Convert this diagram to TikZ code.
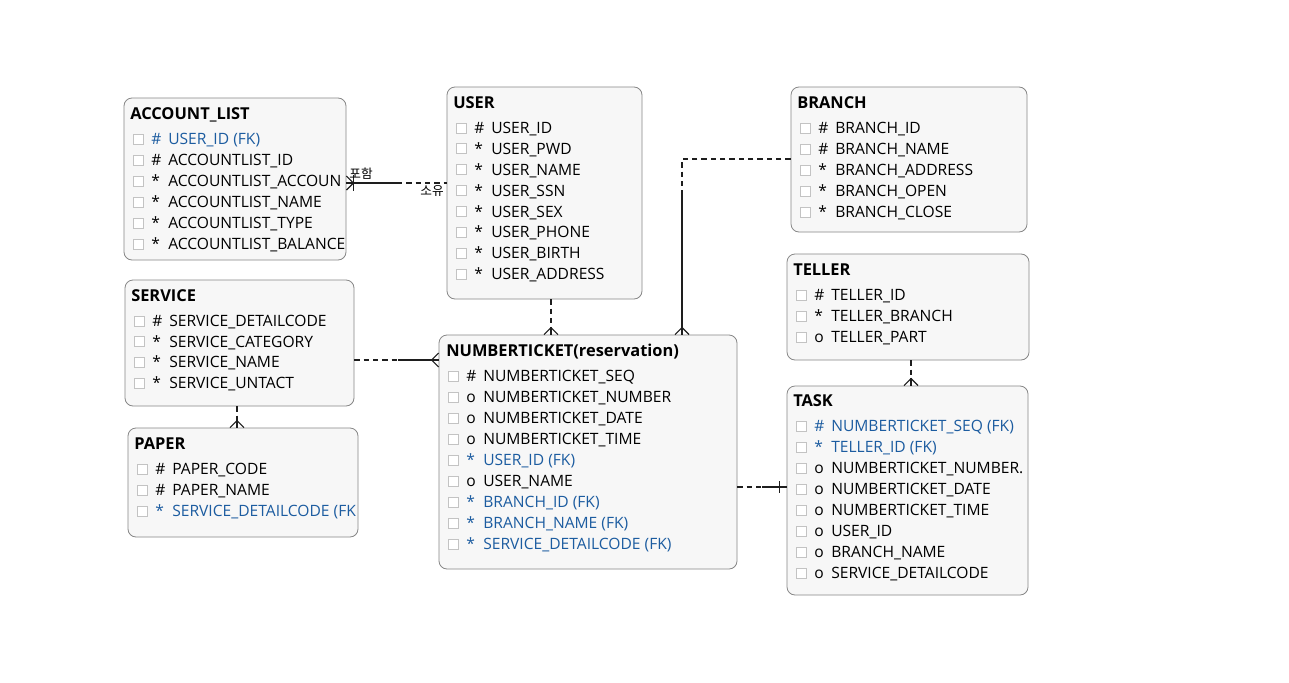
\documentclass[tikz,border=0pt]{standalone}
\usepackage{fontspec}
\setmainfont{Open Sans}
\newfontfamily\kfont{Noto Sans CJK KR}
\usetikzlibrary{fit}
\definecolor{fk}{RGB}{28,92,160}
\definecolor{txt}{RGB}{0,0,0}
\definecolor{boxfill}{RGB}{247,247,247}
\definecolor{boxline}{RGB}{135,135,135}
\definecolor{chkline}{RGB}{195,195,195}
\definecolor{relline}{RGB}{30,30,30}
\tikzstyle{entity} = [rectangle, rounded corners=6pt, draw=boxline, fill=boxfill, inner sep=0pt, line width=0.6pt]
\tikzstyle{title} = [anchor=west, inner sep=0pt, text height=8.5pt, text depth=0pt, font=\fontsize{12.3}{14}\selectfont\bfseries]
\tikzstyle{row} = [anchor=west, inner sep=0pt, text height=8.3pt, text depth=0pt, font=\fontsize{11.7}{13}\selectfont]
\tikzstyle{chk} = [rectangle, draw=chkline, fill=white, line width=0.5pt, minimum size=7.5pt, inner sep=0pt]
\tikzstyle{rel} = [draw=relline, line width=0.9pt]
\tikzstyle{reldash} = [rel, dash pattern=on 4pt off 3pt]
\tikzstyle{kor} = [inner sep=0pt, font=\kfont\fontsize{9.5}{11}\selectfont]

\begin{document}
\begin{tikzpicture}[x=0.75pt, y=-0.75pt]
\fill [white] (0,0) rectangle (1289,682);
\useasboundingbox (0,0) rectangle (1289,682);

% ACCOUNT_LIST
\node (acc) [entity, fit={(124,98) (346,260)}] {};
\node (acct) [title] at (130,114) {ACCOUNT\_LIST};
\begin{scope}
\clip [rounded corners=6pt] (124,98) rectangle (346,260);
\foreach \fc/\sy/\nm [count=\i] in {fk/\#/USER\_ID (FK), txt/\#/ACCOUNTLIST\_ID, txt/*/ACCOUNTLIST\_ACCOUN, txt/*/ACCOUNTLIST\_NAME, txt/*/ACCOUNTLIST\_TYPE, txt/*/ACCOUNTLIST\_BALANCE}
{
  \node (acc-\i) [chk] at (138,118+21*\i) {};
  \node [row, text=\fc] at (151,118+21*\i) {\sy};
  \node [row, text=\fc] at (168,118+21*\i) {\nm};
}
\end{scope}

% USER
\node (user) [entity, fit={(447,87) (642,299)}] {};
\node (usert) [title] at (453,103) {USER};
\begin{scope}
\clip [rounded corners=6pt] (447,87) rectangle (642,299);
\foreach \fc/\sy/\nm [count=\i] in {txt/\#/USER\_ID, txt/*/USER\_PWD, txt/*/USER\_NAME, txt/*/USER\_SSN, txt/*/USER\_SEX, txt/*/USER\_PHONE, txt/*/USER\_BIRTH, txt/*/USER\_ADDRESS}
{
  \node (user-\i) [chk] at (461,107+20.9*\i) {};
  \node [row, text=\fc] at (474,107+20.9*\i) {\sy};
  \node [row, text=\fc] at (491,107+20.9*\i) {\nm};
}
\end{scope}

% BRANCH
\node (branch) [entity, fit={(791,87) (1027,232)}] {};
\node (brancht) [title] at (797,103) {BRANCH};
\begin{scope}
\clip [rounded corners=6pt] (791,87) rectangle (1027,232);
\foreach \fc/\sy/\nm [count=\i] in {txt/\#/BRANCH\_ID, txt/\#/BRANCH\_NAME, txt/*/BRANCH\_ADDRESS, txt/*/BRANCH\_OPEN, txt/*/BRANCH\_CLOSE}
{
  \node (branch-\i) [chk] at (805,107+21*\i) {};
  \node [row, text=\fc] at (818,107+21*\i) {\sy};
  \node [row, text=\fc] at (835,107+21*\i) {\nm};
}
\end{scope}

% TELLER
\node (teller) [entity, fit={(787,254) (1029,360)}] {};
\node (tellert) [title] at (793,270) {TELLER};
\begin{scope}
\clip [rounded corners=6pt] (787,254) rectangle (1029,360);
\foreach \fc/\sy/\nm [count=\i] in {txt/\#/TELLER\_ID, txt/*/TELLER\_BRANCH, txt/o/TELLER\_PART}
{
  \node (teller-\i) [chk] at (801,274+21*\i) {};
  \node [row, text=\fc] at (814,274+21*\i) {\sy};
  \node [row, text=\fc] at (831,274+21*\i) {\nm};
}
\end{scope}

% SERVICE
\node (serv) [entity, fit={(125,280) (354,406)}] {};
\node (servt) [title] at (131,296) {SERVICE};
\begin{scope}
\clip [rounded corners=6pt] (125,280) rectangle (354,406);
\foreach \fc/\sy/\nm [count=\i] in {txt/\#/SERVICE\_DETAILCODE, txt/*/SERVICE\_CATEGORY, txt/*/SERVICE\_NAME, txt/*/SERVICE\_UNTACT}
{
  \node (serv-\i) [chk] at (139,300.3+20.7*\i) {};
  \node [row, text=\fc] at (152,300.3+20.7*\i) {\sy};
  \node [row, text=\fc] at (169,300.3+20.7*\i) {\nm};
}
\end{scope}

% PAPER
\node (paper) [entity, fit={(128,428) (358,537)}] {};
\node (papert) [title] at (134,444) {PAPER};
\begin{scope}
\clip [rounded corners=6pt] (128,428) rectangle (358,537);
\foreach \fc/\sy/\nm [count=\i] in {txt/\#/PAPER\_CODE, txt/\#/PAPER\_NAME, fk/*/SERVICE\_DETAILCODE (FK}
{
  \node (paper-\i) [chk] at (142,448+21*\i) {};
  \node [row, text=\fc] at (155,448+21*\i) {\sy};
  \node [row, text=\fc] at (172,448+21*\i) {\nm};
}
\end{scope}

% NUMBERTICKET
\node (nt) [entity, fit={(439,335) (737,569)}] {};
\node (ntt) [title] at (446,351) {NUMBERTICKET(reservation)};
\begin{scope}
\clip [rounded corners=6pt] (439,335) rectangle (737,569);
\foreach \fc/\sy/\nm [count=\i] in {txt/\#/NUMBERTICKET\_SEQ, txt/o/NUMBERTICKET\_NUMBER, txt/o/NUMBERTICKET\_DATE, txt/o/NUMBERTICKET\_TIME, fk/*/USER\_ID (FK), txt/o/USER\_NAME, fk/*/BRANCH\_ID (FK), fk/*/BRANCH\_NAME (FK), fk/*/SERVICE\_DETAILCODE (FK)}
{
  \node (nt-\i) [chk] at (453,355+21*\i) {};
  \node [row, text=\fc] at (466,355+21*\i) {\sy};
  \node [row, text=\fc] at (483,355+21*\i) {\nm};
}
\end{scope}

% TASK
\node (task) [entity, fit={(787,386) (1028,595)}] {};
\node (taskt) [title] at (793,401) {TASK};
\begin{scope}
\clip [rounded corners=6pt] (787,386) rectangle (1028,595);
\foreach \fc/\sy/\nm [count=\i] in {fk/\#/NUMBERTICKET\_SEQ (FK), fk/*/TELLER\_ID (FK), txt/o/NUMBERTICKET\_NUMBER., txt/o/NUMBERTICKET\_DATE, txt/o/NUMBERTICKET\_TIME, txt/o/USER\_ID, txt/o/BRANCH\_NAME, txt/o/SERVICE\_DETAILCODE}
{
  \node (task-\i) [chk] at (801,405+21*\i) {};
  \node [row, text=\fc] at (814,405+21*\i) {\sy};
  \node [row, text=\fc] at (831,405+21*\i) {\nm};
}
\end{scope}

% ACCOUNT_LIST - USER
\coordinate (c1) at (397,183);
\draw [rel] (acc.east |- c1) -- (c1);
\draw [reldash] (c1) -- (user.west |- c1);
\draw [rel] (acc.east |- c1) ++(0,-7) -- ++(7,7) -- ++(-7,7);
\draw [rel] (acc.east |- c1) ++(7,-8) -- ++(0,16);
\node (c1a) [kor] at (361,174) {포함};
\node (c1b) [kor] at (432,191) {소유};

% USER - NUMBERTICKET
\coordinate (c2) at (551,327);
\draw [reldash] (user.south -| c2) -- (c2);
\draw [rel] (c2) -- (nt.north -| c2);
\draw [rel] (nt.north -| c2) ++(-7,0) -- ++(7,-7) -- ++(7,7);

% BRANCH - NUMBERTICKET
\coordinate (c3) at (682,159);
\coordinate (c4) at (682,192);
\draw [reldash] (branch.west |- c3) -- (c3) -- (c4);
\draw [rel] (c4) -- (nt.north -| c4);
\draw [rel] (nt.north -| c4) ++(-7,0) -- ++(7,-7) -- ++(7,7);

% SERVICE - NUMBERTICKET
\coordinate (c5) at (398,360);
\draw [reldash] (serv.east |- c5) -- (c5);
\draw [rel] (c5) -- (nt.west |- c5);
\draw [rel] (nt.west |- c5) ++(0,-7) -- ++(-7,7) -- ++(7,7);

% SERVICE - PAPER
\coordinate (c6) at (237,421);
\draw [reldash] (serv.south -| c6) -- (c6);
\draw [rel] (c6) -- (paper.north -| c6);
\draw [rel] (paper.north -| c6) ++(-7,0) -- ++(7,-7) -- ++(7,7);

% TELLER - TASK
\coordinate (c7) at (911,378);
\draw [reldash] (teller.south -| c7) -- (c7);
\draw [rel] (c7) -- (task.north -| c7);
\draw [rel] (task.north -| c7) ++(-7,0) -- ++(7,-7) -- ++(7,7);

% NUMBERTICKET - TASK
\coordinate (c8) at (762,487);
\draw [reldash] (nt.east |- c8) -- (c8);
\draw [rel] (c8) -- (task.west |- c8);
\draw [rel] (task.west |- c8) ++(-7,-6) -- ++(0,12);
\end{tikzpicture}
\end{document}
